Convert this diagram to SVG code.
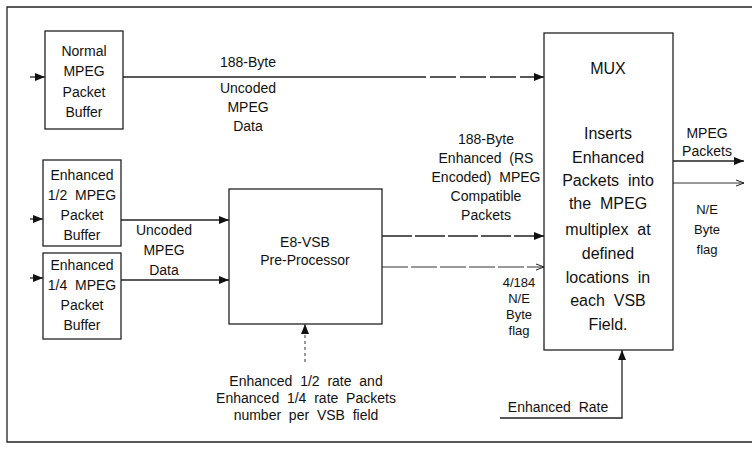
<svg xmlns="http://www.w3.org/2000/svg" width="752" height="452" viewBox="0 0 752 452">
<style>
.box{fill:#fff;stroke:#222;stroke-width:1.3}
.ln{fill:none;stroke:#222;stroke-width:1.3}
.thin{fill:none;stroke:#333;stroke-width:1}
text{font-family:"Liberation Sans",Arial,sans-serif;fill:#111;text-anchor:middle}
.s{font-size:13px}
.m{font-size:14px}
.l{font-size:16px}
</style>
<defs>
<marker id="ah" viewBox="0 0 10 8" refX="10" refY="4" markerWidth="10" markerHeight="8" markerUnits="userSpaceOnUse" orient="auto">
<path d="M0,0 L10,4 L0,8 Z" fill="#111"/>
</marker>
<marker id="oa" viewBox="0 0 8 8" refX="8" refY="4" markerWidth="8" markerHeight="8" markerUnits="userSpaceOnUse" orient="auto">
<path d="M0,1 L8,4 L0,7" fill="none" stroke="#222" stroke-width="1"/>
</marker>
</defs>
<rect width="752" height="452" fill="#fff"/>
<g id="frame">
<path class="ln" d="M752,7 H7 V442 H752"/>
</g>
<g id="connectors">
<line class="ln" x1="30" y1="77" x2="45" y2="77" marker-end="url(#ah)"/>
<line class="ln" x1="30" y1="219" x2="43" y2="219" marker-end="url(#ah)"/>
<line class="ln" x1="30" y1="278" x2="43" y2="278" marker-end="url(#ah)"/>
<line class="ln" x1="123" y1="77" x2="400" y2="77"/>
<line class="ln" x1="400" y1="77" x2="544" y2="77" stroke-dasharray="26 4" marker-end="url(#ah)"/>
<line class="ln" x1="121" y1="220" x2="229" y2="220" marker-end="url(#ah)"/>
<line class="ln" x1="121" y1="280" x2="229" y2="280" marker-end="url(#ah)"/>
<line class="ln" x1="382" y1="236" x2="544" y2="236" stroke-dasharray="30 3" marker-end="url(#ah)"/>
<line class="thin" x1="382" y1="267" x2="544" y2="267" stroke-dasharray="26 3" marker-end="url(#oa)"/>
<line class="ln" x1="673" y1="161" x2="744" y2="161" marker-end="url(#ah)"/>
<line class="thin" x1="673" y1="183" x2="744" y2="183" marker-end="url(#oa)"/>
<path class="ln" d="M500,418 H622 V350" marker-end="url(#ah)"/>
<line class="thin" x1="305" y1="362" x2="305" y2="324" stroke-dasharray="3 3" marker-end="url(#ah)"/>
</g>
<g id="normal-buffer">
<rect class="box" x="45" y="31" width="78" height="98"/>
<text class="m" x="84" y="56">Normal</text>
<text class="m" x="84" y="76">MPEG</text>
<text class="m" x="84" y="97">Packet</text>
<text class="m" x="84" y="117">Buffer</text>
</g>
<g id="enh-half-buffer">
<rect class="box" x="43" y="160" width="78" height="86"/>
<text class="m" x="82" y="180">Enhanced</text>
<text class="m" x="82" y="200" xml:space="preserve">1/2  MPEG</text>
<text class="m" x="82" y="220">Packet</text>
<text class="m" x="82" y="240">Buffer</text>
</g>
<g id="enh-quarter-buffer">
<rect class="box" x="43" y="253" width="78" height="86"/>
<text class="m" x="82" y="270">Enhanced</text>
<text class="m" x="82" y="290" xml:space="preserve">1/4  MPEG</text>
<text class="m" x="82" y="310">Packet</text>
<text class="m" x="82" y="330">Buffer</text>
</g>
<g id="preprocessor">
<rect class="box" x="229" y="189" width="153" height="135"/>
<text class="m" x="305" y="247">E8-VSB</text>
<text class="m" x="305" y="265">Pre-Processor</text>
</g>
<g id="mux">
<rect class="box" x="544" y="33" width="129" height="317"/>
<text class="l" x="608" y="74">MUX</text>
<text class="l" x="608" y="139">Inserts</text>
<text class="l" x="608" y="163">Enhanced</text>
<text class="l" x="608" y="186" xml:space="preserve">Packets  into</text>
<text class="l" x="608" y="209" xml:space="preserve">the  MPEG</text>
<text class="l" x="608" y="235" xml:space="preserve">multiplex  at</text>
<text class="l" x="608" y="259">defined</text>
<text class="l" x="608" y="283" xml:space="preserve">locations  in</text>
<text class="l" x="608" y="306" xml:space="preserve">each  VSB</text>
<text class="l" x="608" y="330">Field.</text>
</g>
<g id="labels">
<text class="m" x="248" y="67">188-Byte</text>
<text class="m" x="248" y="93">Uncoded</text>
<text class="m" x="248" y="112">MPEG</text>
<text class="m" x="248" y="131">Data</text>
<text class="m" x="486" y="144">188-Byte</text>
<text class="m" x="486" y="163" xml:space="preserve">Enhanced  (RS</text>
<text class="m" x="486" y="182" xml:space="preserve">Encoded)  MPEG</text>
<text class="m" x="486" y="201">Compatible</text>
<text class="m" x="486" y="220">Packets</text>
<text class="m" x="164" y="235">Uncoded</text>
<text class="m" x="164" y="255">MPEG</text>
<text class="m" x="164" y="275">Data</text>
<text class="s" x="519" y="287">4/184</text>
<text class="s" x="519" y="303">N/E</text>
<text class="s" x="519" y="319">Byte</text>
<text class="s" x="519" y="335">flag</text>
<text class="m" x="707" y="138">MPEG</text>
<text class="m" x="707" y="156">Packets</text>
<text class="s" x="707" y="214">N/E</text>
<text class="s" x="707" y="234">Byte</text>
<text class="s" x="707" y="254">flag</text>
<text class="m" x="558" y="412" xml:space="preserve">Enhanced  Rate</text>
<text class="m" x="306" y="386" xml:space="preserve">Enhanced  1/2  rate  and</text>
<text class="m" x="306" y="403" xml:space="preserve">Enhanced  1/4  rate  Packets</text>
<text class="m" x="306" y="420" xml:space="preserve">number  per  VSB  field</text>
</g>
</svg>
